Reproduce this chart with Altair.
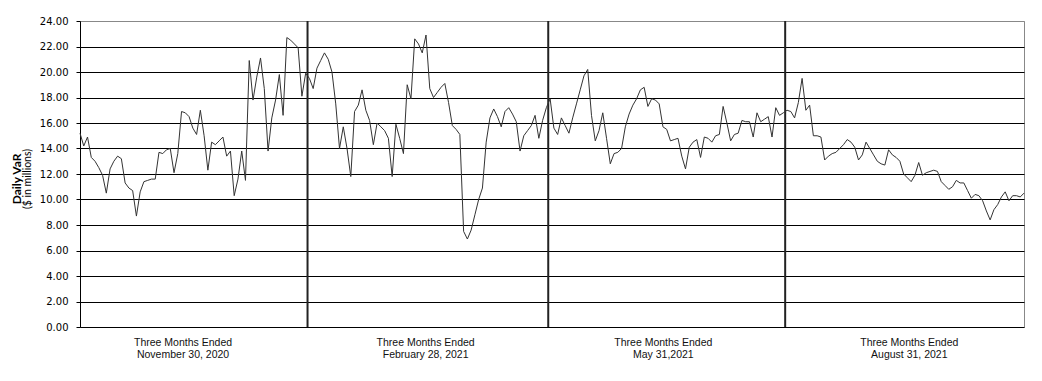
import altair as alt
import pandas as pd

# Daily VaR ($ in millions), one value per trading day
q1 = [15.2, 14.2, 14.9, 13.3, 13.0, 12.5, 11.9, 10.5, 12.4, 13.0,
      13.4, 13.2, 11.3, 10.9, 10.7, 8.7, 10.6, 11.4, 11.5, 11.6,
      11.6, 13.7, 13.6, 13.9, 14.0, 12.1, 13.6, 16.9, 16.8, 16.5,
      15.6, 15.1, 17.0, 15.0, 12.3, 14.5, 14.3, 14.6, 14.9, 13.4,
      13.8, 10.3, 11.6, 13.8, 11.5, 20.9, 17.8, 19.6, 21.1, 18.7,
      13.8, 16.4, 17.8, 19.8, 16.6, 22.7, 22.5, 22.2, 21.9, 18.1,
      19.9]
q2 = [19.5, 18.7, 20.3, 20.9, 21.5, 21.0, 20.0, 17.5, 14.0, 15.7,
      14.0, 11.8, 16.9, 17.4, 18.6, 17.0, 16.2, 14.3, 16.0, 15.7,
      15.4, 14.8, 11.8, 15.9, 14.8, 13.6, 19.0, 17.9, 22.6, 22.2,
      21.5, 22.9, 18.7, 18.0, 18.4, 18.8, 19.1, 17.6, 15.8, 15.5,
      15.1, 7.5, 6.9, 7.6, 8.8, 10.0, 10.9, 14.5, 16.4, 17.1,
      16.5, 15.7, 16.9, 17.2, 16.7, 16.1, 13.8, 15.0, 15.4, 15.8,
      16.6, 14.8, 16.2, 17.2]
q3 = [17.9, 15.6, 15.1, 16.4, 15.8, 15.2, 16.4, 17.5, 18.6, 19.7,
      20.2, 16.6, 14.6, 15.4, 16.8, 14.8, 12.8, 13.6, 13.7, 14.0,
      15.7, 16.7, 17.4, 17.9, 18.6, 18.8, 17.3, 17.9, 17.8, 17.5,
      15.7, 15.5, 14.6, 14.7, 14.8, 13.4, 12.4, 14.1, 14.5, 14.7,
      13.3, 14.9, 14.8, 14.5, 15.0, 15.1, 17.3, 16.0, 14.6, 15.1,
      15.2, 16.2, 16.1, 16.1, 14.9, 16.8, 16.1, 16.3, 16.5, 14.9,
      17.2, 16.6, 16.8]
q4 = [17.0, 16.9, 16.4, 17.6, 19.5, 17.0, 17.4, 15.0, 15.0, 14.9,
      13.1, 13.4, 13.6, 13.7, 14.0, 14.3, 14.7, 14.5, 14.1, 13.1,
      13.5, 14.5, 14.0, 13.5, 13.0, 12.8, 12.7, 13.9, 13.5, 13.3,
      13.0, 12.0, 11.7, 11.4, 11.9, 12.9, 11.9, 12.1, 12.2, 12.3,
      12.2, 11.4, 11.1, 10.8, 11.0, 11.5, 11.3, 11.3, 10.7, 10.1,
      10.4, 10.3, 9.9, 9.1, 8.4, 9.2, 9.6, 10.2, 10.6, 9.9,
      10.3, 10.3, 10.2, 10.5]

y_ticks = [0, 2, 4, 6, 8, 10, 12, 14, 16, 18, 20, 22, 24]
label_line1 = ["Three Months Ended"] * 4
label_line2 = ["November 30, 2020", "February 28, 2021", "May 31,2021", "August 31, 2021"]
label_day = [27.4, 91.9, 155.1, 220.5]

values = q1 + q2 + q3 + q4
n = len(values)
df = pd.DataFrame({"day": list(range(n)), "var": values})

c1 = len(q1)
c2 = c1 + len(q2)
c3 = c2 + len(q3)
div_df = pd.DataFrame({"day": [c1 - 0.5, c2 - 0.5, c3 - 0.5]})
lab_df = pd.DataFrame({"day": label_day, "l1": label_line1, "l2": label_line2})

xscale = alt.Scale(domain=[0, n - 1], nice=False, zero=False)
yscale = alt.Scale(domain=[0, 24], nice=False)

line = alt.Chart(df).mark_line(color="#333333", strokeWidth=1).encode(
    x=alt.X("day:Q", scale=xscale, axis=None),
    y=alt.Y(
        "var:Q",
        scale=yscale,
        axis=alt.Axis(
            values=y_ticks,
            format=".2f",
            title=None,
            labelFont="DejaVu Sans",
            labelFontSize=10,
            labelColor="#000000",
            tickColor="#000000",
            tickSize=4,
            labelPadding=8,
            domainColor="#000000",
            gridColor={"condition": {"test": "datum.value === 24", "value": "#888888"},
                       "value": "#000000"},
            gridWidth=1,
            gridOpacity=1,
        ),
    ),
)

dividers = alt.Chart(div_df).mark_rule(color="#222222", strokeWidth=2).encode(
    x=alt.X("day:Q", scale=xscale, axis=None)
)

lab1 = alt.Chart(lab_df).mark_text(
    font="Liberation Sans", fontSize=10.5, baseline="alphabetic", align="center", color="#111111"
).encode(x=alt.X("day:Q", scale=xscale, axis=None), y=alt.value(325), text="l1:N")

lab2 = alt.Chart(lab_df).mark_text(
    font="Liberation Sans", fontSize=10.5, baseline="alphabetic", align="center", color="#111111"
).encode(x=alt.X("day:Q", scale=xscale, axis=None), y=alt.value(337), text="l2:N")

title_df = pd.DataFrame({"t": ["Daily VaR"], "s": ["($ in millions)"]})
ytitle = alt.Chart(title_df).mark_text(
    font="Lato", fontWeight="bold", fontSize=12, angle=270, baseline="middle",
    align="center", color="#000000"
).encode(x=alt.value(-63.5), y=alt.value(158), text="t:N")

ysub = alt.Chart(title_df).mark_text(
    font="Lato", fontSize=10.5, angle=270, baseline="middle", align="center", color="#000000"
).encode(x=alt.value(-52.5), y=alt.value(158), text="s:N")

chart = alt.layer(dividers, line, lab1, lab2, ytitle, ysub).properties(
    width=944,
    height=306,
    padding={"left": 72, "top": 13, "right": 10, "bottom": 45},
    autosize=alt.AutoSizeParams(type="none"),
).configure_view(stroke="#888888", strokeWidth=1)

chart.save("out.html", embed_options={"renderer": "svg", "actions": False})
